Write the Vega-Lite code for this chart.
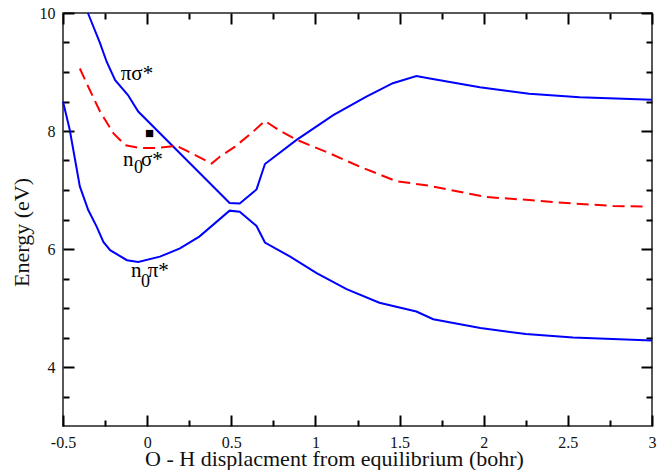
{
  "$schema": "https://vega.github.io/schema/vega-lite/v6.json",
  "width": 589,
  "height": 413,
  "autosize": {"type": "none"},
  "padding": {"top": 13, "left": 63, "right": 15, "bottom": 44},
  "background": "white",
  "config": {
    "view": {"stroke": "#222", "strokeWidth": 1.5},
    "axis": {
      "domain": false, "grid": false, "labelFlush": false, "labelOverlap": false, "ticks": true,
      "labelFont": "Liberation Serif", "labelFontSize": 16, "labelColor": "#111",
      "titleFont": "Liberation Serif", "titleFontSize": 22, "titleFontWeight": "normal", "titleColor": "#111",
      "tickColor": "#000000", "tickWidth": 2
    }
  },
  "datasets": {
    "curves": [
      {"s": "ps", "x": -0.352, "y": 10.0},
      {"s": "ps", "x": -0.28, "y": 9.49},
      {"s": "ps", "x": -0.24, "y": 9.17},
      {"s": "ps", "x": -0.19, "y": 8.86},
      {"s": "ps", "x": -0.114, "y": 8.61},
      {"s": "ps", "x": -0.053, "y": 8.33},
      {"s": "ps", "x": 0.49, "y": 6.78},
      {"s": "ps", "x": 0.55, "y": 6.77},
      {"s": "ps", "x": 0.65, "y": 7.01},
      {"s": "ps", "x": 0.70, "y": 7.44},
      {"s": "ps", "x": 0.888, "y": 7.85},
      {"s": "ps", "x": 1.106, "y": 8.27},
      {"s": "ps", "x": 1.30, "y": 8.58},
      {"s": "ps", "x": 1.46, "y": 8.81},
      {"s": "ps", "x": 1.60, "y": 8.93},
      {"s": "ps", "x": 1.68, "y": 8.89},
      {"s": "ps", "x": 1.977, "y": 8.74},
      {"s": "ps", "x": 2.27, "y": 8.63},
      {"s": "ps", "x": 2.57, "y": 8.57},
      {"s": "ps", "x": 3.0, "y": 8.53},
      {"s": "np", "x": -0.5, "y": 8.50},
      {"s": "np", "x": -0.46, "y": 8.02},
      {"s": "np", "x": -0.40, "y": 7.06},
      {"s": "np", "x": -0.35, "y": 6.66},
      {"s": "np", "x": -0.30, "y": 6.38},
      {"s": "np", "x": -0.26, "y": 6.12},
      {"s": "np", "x": -0.22, "y": 5.98},
      {"s": "np", "x": -0.12, "y": 5.81},
      {"s": "np", "x": -0.053, "y": 5.78},
      {"s": "np", "x": 0.076, "y": 5.87},
      {"s": "np", "x": 0.195, "y": 6.01},
      {"s": "np", "x": 0.31, "y": 6.21},
      {"s": "np", "x": 0.49, "y": 6.65},
      {"s": "np", "x": 0.55, "y": 6.63},
      {"s": "np", "x": 0.65, "y": 6.39},
      {"s": "np", "x": 0.70, "y": 6.11},
      {"s": "np", "x": 0.85, "y": 5.87},
      {"s": "np", "x": 1.007, "y": 5.59},
      {"s": "np", "x": 1.185, "y": 5.32},
      {"s": "np", "x": 1.38, "y": 5.09},
      {"s": "np", "x": 1.60, "y": 4.94},
      {"s": "np", "x": 1.70, "y": 4.81},
      {"s": "np", "x": 1.98, "y": 4.66},
      {"s": "np", "x": 2.25, "y": 4.56},
      {"s": "np", "x": 2.53, "y": 4.50},
      {"s": "np", "x": 3.0, "y": 4.45}
    ],
    "dashed": [
      {"x": -0.40, "y": 9.06},
      {"x": -0.35, "y": 8.75},
      {"x": -0.28, "y": 8.33},
      {"x": -0.20, "y": 7.96},
      {"x": -0.13, "y": 7.76},
      {"x": -0.043, "y": 7.71},
      {"x": 0.05, "y": 7.71},
      {"x": 0.175, "y": 7.75},
      {"x": 0.383, "y": 7.45},
      {"x": 0.43, "y": 7.56},
      {"x": 0.52, "y": 7.73},
      {"x": 0.63, "y": 7.99},
      {"x": 0.70, "y": 8.17},
      {"x": 0.78, "y": 8.02},
      {"x": 0.89, "y": 7.85},
      {"x": 1.086, "y": 7.62},
      {"x": 1.26, "y": 7.40},
      {"x": 1.48, "y": 7.15},
      {"x": 1.68, "y": 7.07},
      {"x": 2.017, "y": 6.88},
      {"x": 2.27, "y": 6.83},
      {"x": 2.43, "y": 6.79},
      {"x": 2.77, "y": 6.73},
      {"x": 2.97, "y": 6.72}
    ],
    "txt": [
      {"x": -0.157, "y": 8.86, "t": "πσ*", "k": "main"},
      {"x": -0.143, "y": 7.41, "t": "n", "k": "main"},
      {"x": -0.037, "y": 7.41, "t": "σ*", "k": "main"},
      {"x": -0.096, "y": 5.53, "t": "n", "k": "main"},
      {"x": 0.003, "y": 5.53, "t": "π*", "k": "main"},
      {"x": -0.078, "y": 7.29, "t": "0", "k": "sub"},
      {"x": -0.037, "y": 5.36, "t": "0", "k": "sub"},
      {"x": -0.012, "y": 7.875, "t": "■", "k": "mk"}
    ]
  },
  "resolve": {"axis": {"x": "independent", "y": "independent"}},
  "layer": [
    {
      "data": {"name": "curves"},
      "mark": {"type": "line", "color": "#0000ff", "strokeWidth": 2},
      "encoding": {
        "x": {"field": "x", "type": "quantitative",
          "scale": {"domain": [-0.5, 3], "nice": false, "zero": false},
          "axis": {"orient": "bottom", "values": [-0.5, 0, 0.5, 1, 1.5, 2, 2.5, 3], "tickSize": -11, "labelPadding": 19,
            "labelExpr": "replace(format(datum.value, '~g'), '−', '-')",
            "title": "O - H displacment from equilibrium (bohr)", "titleX": 271, "titleY": 39, "titleBaseline": "alphabetic"}},
        "y": {"field": "y", "type": "quantitative",
          "scale": {"domain": [3, 10], "nice": false, "zero": false},
          "axis": {"orient": "left", "values": [4, 6, 8, 10], "tickSize": -11, "labelPadding": 19,
            "title": "Energy (eV)", "titleX": -35, "titleY": 219, "titleBaseline": "alphabetic"}},
        "detail": {"field": "s", "type": "nominal"}
      }
    },
    {
      "data": {"name": "dashed"},
      "mark": {"type": "line", "color": "#ff0000", "strokeWidth": 2, "strokeDash": [12, 6]},
      "encoding": {
        "x": {"field": "x", "type": "quantitative",
          "axis": {"orient": "top", "values": [-0.5, -0.25, 0, 0.25, 0.5, 0.75, 1, 1.25, 1.5, 1.75, 2, 2.25, 2.5, 2.75, 3],
            "tickSize": {"condition": {"test": "datum.value * 2 === round(datum.value * 2)", "value": -11}, "value": -6},
            "labels": false, "title": null}},
        "y": {"field": "y", "type": "quantitative",
          "axis": {"orient": "right", "values": [3.5, 4, 4.5, 5, 5.5, 6, 6.5, 7, 7.5, 8, 8.5, 9, 9.5, 10],
            "tickSize": {"condition": {"test": "datum.value % 2 === 0", "value": -11}, "value": -6},
            "labels": false, "title": null}}
      }
    },
    {
      "data": {"name": "txt"},
      "mark": {"type": "text", "font": "Liberation Serif", "align": "left", "baseline": "alphabetic", "color": "#000"},
      "encoding": {
        "x": {"field": "x", "type": "quantitative",
          "axis": {"orient": "bottom", "values": [-0.25, 0.25, 0.75, 1.25, 1.75, 2.25, 2.75], "tickSize": -6, "labels": false, "title": null}},
        "y": {"field": "y", "type": "quantitative",
          "axis": {"orient": "left", "values": [3.5, 4.5, 5, 5.5, 6.5, 7, 7.5, 8.5, 9, 9.5], "tickSize": -6, "labels": false, "title": null}},
        "size": {"field": "k", "type": "ordinal", "scale": {"domain": ["main", "sub", "mk"], "range": [21, 15, 12]}, "legend": null},
        "text": {"field": "t"}
      }
    }
  ]
}
